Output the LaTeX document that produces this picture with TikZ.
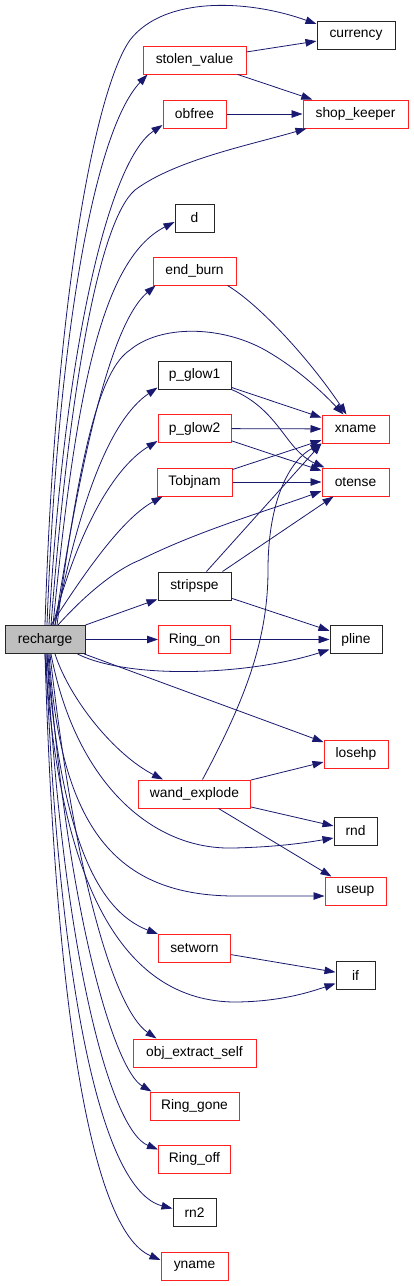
\documentclass[tikz,border=0pt]{standalone}
\usepackage{fontspec}
\setmainfont{Liberation Sans}
\usetikzlibrary{arrows.meta}
\definecolor{edgeblue}{HTML}{191970}
\definecolor{rootgray}{HTML}{BFBFBF}
\definecolor{linkred}{HTML}{FF2020}

\begin{document}
\begin{tikzpicture}[x=1pt, y=-1pt,
        font=\fontsize{13.8}{16}\selectfont,
        >={Triangle[length=11pt, width=7.5pt]},
        fn/.style={draw=black!85, line width=1pt, minimum height=28pt,
                   inner sep=2pt},
        fnr/.style={fn, draw=linkred},
        root/.style={fn, fill=rootgray},
        call/.style={->, draw=edgeblue, line width=0.8pt},
    ]
        \useasboundingbox[fill=white] (0,0) rectangle (413,1286);
        % Caller.
        \node[root, minimum width=80pt] (recharge) at (45,639.5) {recharge};
        % Middle column.
        \node[fnr, minimum width=103pt] (stolen_value) at (194.5,60) {stolen\_value};
        \node[fnr, minimum width=63pt]  (obfree)       at (194.5,114) {obfree};
        \node[fn,  minimum width=39pt]  (d)            at (194.5,218) {d};
        \node[fnr, minimum width=83pt]  (end_burn)     at (194.5,271) {end\_burn};
        \node[fn,  minimum width=73pt]  (p_glow1)      at (194.5,375) {p\_glow1};
        \node[fnr, minimum width=73pt]  (p_glow2)      at (194.5,428.5) {p\_glow2};
        \node[fnr, minimum width=75pt]  (Tobjnam)      at (194.5,482) {Tobjnam};
        \node[fn,  minimum width=73pt]  (stripspe)     at (194.5,586) {stripspe};
        \node[fnr, minimum width=72pt]  (Ring_on)      at (194.5,639.5) {Ring\_on};
        \node[fnr, minimum width=112pt] (wand_explode) at (194.5,794) {wand\_explode};
        \node[fnr, minimum width=72pt]  (setworn)      at (194.5,948.5) {setworn};
        \node[fnr, minimum width=123pt] (obj_extract_self) at (194.5,1053) {obj\_extract\_self};
        \node[fnr, minimum width=89pt]  (Ring_gone)    at (194.5,1106) {Ring\_gone};
        \node[fnr, minimum width=72pt]  (Ring_off)     at (194.5,1159) {Ring\_off};
        \node[fn,  minimum width=43pt]  (rn2)          at (194.5,1212.5) {rn2};
        \node[fnr, minimum width=67pt]  (yname)        at (194.5,1266) {yname};
        % Right column.
        \node[fn,  minimum width=78pt]  (currency)     at (356,35) {currency};
        \node[fnr, minimum width=105pt] (shop_keeper)  at (355.5,114) {shop\_keeper};
        \node[fnr, minimum width=67pt]  (xname)        at (355.5,429) {xname};
        \node[fnr, minimum width=67pt]  (otense)       at (355.5,482) {otense};
        \node[fn,  minimum width=52pt]  (pline)        at (356,639.5) {pline};
        \node[fnr, minimum width=64pt]  (losehp)       at (356,754) {losehp};
        \node[fn,  minimum width=43pt]  (rnd)          at (355.5,831) {rnd};
        \node[fnr, minimum width=61pt]  (useup)        at (355.5,891) {useup};
        \node[fn,  minimum width=39pt]  (if)           at (355.5,975.5) {if};
        % Calls going up from recharge.
        \draw[call] (recharge.north) .. controls (55,300) and (95,90) .. (130,40)
            .. controls (165,-5) and (250,0) .. ([yshift=11pt]currency.west);
        \draw[call] ([xshift=2pt]recharge.north) .. controls (58,330) and (95,130)
            .. ([xshift=5pt]stolen_value.south west);
        \draw[call] ([xshift=4pt]recharge.north) .. controls (65,340) and (110,160)
            .. ([yshift=-11pt]obfree.west);
        \draw[call] ([xshift=6pt]recharge.north) .. controls (70,380) and (100,220) .. (135,190)
            .. controls (175,160) and (250,145) .. ([xshift=4pt]shop_keeper.south west);
        \draw[call] ([xshift=8pt]recharge.north) .. controls (75,400) and (100,260)
            .. ([yshift=-4pt]d.west);
        \draw[call] ([xshift=10pt]recharge.north) .. controls (85,430) and (115,320)
            .. ([xshift=3pt]end_burn.south west);
        \draw[call] ([xshift=12pt]recharge.north) .. controls (80,450) and (100,370) .. (130,350)
            .. controls (160,325) and (220,325) .. (265,350)
            .. controls (300,370) and (325,395) .. ([xshift=-12pt]xname.north);
        \draw[call] ([xshift=10pt]recharge.north) .. controls (80,500) and (110,420)
            .. ([yshift=2pt]p_glow1.south west);
        \draw[call] ([xshift=8pt]recharge.north) .. controls (75,540) and (110,470)
            .. ([yshift=2pt]p_glow2.south west);
        \draw[call] ([xshift=6pt]recharge.north) .. controls (80,580) and (120,520)
            .. ([xshift=6pt]Tobjnam.south west);
        \draw[call] ([xshift=13pt]recharge.north) .. controls (85,595) and (115,570) .. (140,560)
            .. controls (200,530) and (270,510) .. ([yshift=-9pt]otense.west);
        % Straight calls.
        \draw[call] (recharge) -- (stripspe);
        \draw[call] (recharge) -- (Ring_on);
        \draw[call] (recharge) -- (losehp);
        % Calls going down from recharge.
        \draw[call] ([xshift=-8pt]recharge.south east) .. controls (130,680) and (250,675)
            .. ([yshift=-10pt]pline.west);
        \draw[call] ([xshift=10pt]recharge.south) .. controls (70,700) and (115,755)
            .. ([xshift=25pt]wand_explode.north west);
        \draw[call] ([xshift=6pt]recharge.south) .. controls (75,780) and (150,850) .. (233,848)
            .. controls (280,847) and (310,842) .. ([yshift=-7pt]rnd.west);
        \draw[call] ([xshift=4pt]recharge.south) .. controls (60,820) and (110,895) .. (233,896)
            .. controls (270,896) and (300,896) .. ([yshift=-5pt]useup.west);
        \draw[call] ([xshift=2pt]recharge.south) .. controls (60,830) and (95,910)
            .. (setworn.north west);
        \draw[call] (recharge.south) .. controls (60,900) and (130,1000) .. (233,1002)
            .. controls (280,1002) and (310,992) .. ([yshift=-8pt]if.west);
        \draw[call] ([xshift=5pt]recharge.south) .. controls (75,880) and (115,1010)
            .. ([xshift=24pt]obj_extract_self.north west);
        \draw[call] ([xshift=3pt]recharge.south) .. controls (68,920) and (115,1070)
            .. ([xshift=2pt]Ring_gone.north west);
        \draw[call] ([xshift=2pt]recharge.south) .. controls (62,950) and (110,1130)
            .. ([yshift=-5pt]Ring_off.north west);
        \draw[call] ([xshift=1pt]recharge.south) .. controls (58,980) and (100,1190)
            .. ([yshift=4pt]rn2.west);
        \draw[call] (recharge.south) .. controls (55,1000) and (90,1230)
            .. ([yshift=6pt]yname.west);
        % Calls between callees.
        \draw[call] (stolen_value) -- (currency);
        \draw[call] (stolen_value) -- (shop_keeper);
        \draw[call] (obfree) -- (shop_keeper);
        \draw[call] ([xshift=-9pt]end_burn.south east) .. controls (260,305) and (310,360)
            .. ([xshift=-9pt]xname.north);
        \draw[call] (p_glow1) -- (xname);
        \draw[call] (p_glow1.south east) .. controls (280,410) and (285,450)
            .. ([xshift=3pt]otense.north west);
        \draw[call] (p_glow2) -- (xname);
        \draw[call] (p_glow2) -- (otense);
        \draw[call] (Tobjnam) -- (xname);
        \draw[call] (Tobjnam) -- (otense);
        \draw[call] ([xshift=12pt]stripspe.north) -- (xname.south west);
        \draw[call] ([xshift=28pt]stripspe.north) -- ([xshift=12pt]otense.south west);
        \draw[call] (stripspe) -- (pline);
        \draw[call] (Ring_on) -- (pline);
        \draw[call] ([xshift=8pt]wand_explode.north) .. controls (245,700) and (268,640) .. (268,570)
            .. controls (268,500) and (290,460) .. (xname.south west);
        \draw[call] (wand_explode) -- (losehp);
        \draw[call] (wand_explode) -- (rnd);
        \draw[call] (wand_explode) -- (useup);
        \draw[call] (setworn) -- (if);
\end{tikzpicture}
\end{document}
